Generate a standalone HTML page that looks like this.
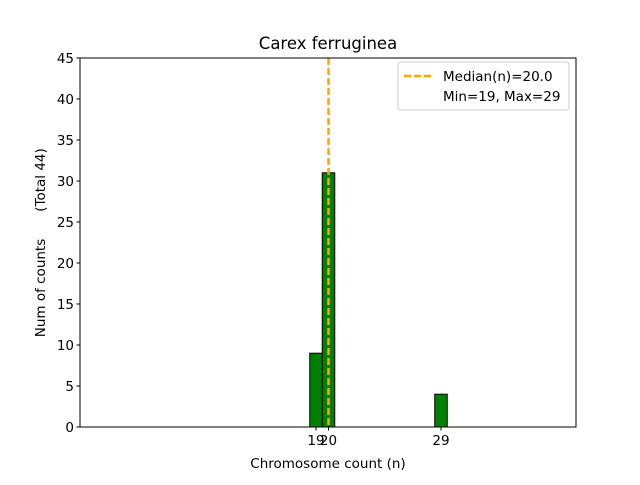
<!DOCTYPE html>
<html><head><meta charset="utf-8"><style>
body{margin:0;background:#fff}
svg text{font-family:"DejaVu Sans","Liberation Sans",sans-serif;fill:#000}
</style></head><body>
<svg id="chart" width="640" height="480" xmlns="http://www.w3.org/2000/svg">
<rect x="0" y="0" width="640" height="480" fill="#fff"/>
<text x="328" y="49" font-size="16.5" text-anchor="middle">Carex ferruginea</text>
<g id="bars"></g>
<g id="yaxis"></g>
<g id="xaxis"></g>
<rect x="80" y="58" width="496" height="369" fill="none" stroke="#000" stroke-width="1"/>
<text x="328" y="468" font-size="13.5" text-anchor="middle">Chromosome count (n)</text>
<text transform="translate(45,288) rotate(-90)" font-size="13.5" text-anchor="middle">Num of counts</text>
<text transform="translate(45,180) rotate(-90)" font-size="13.5" text-anchor="middle">(Total 44)</text>
<g>
<rect x="398" y="62" width="171" height="48" rx="3" fill="#fff" stroke="#ccc"/>
<line x1="404" y1="76" x2="432" y2="76" stroke="#FFA500" stroke-width="2.5" stroke-dasharray="7,3"/>
<text x="443" y="81" font-size="13.5">Median(n)=20.0</text>
<text x="443" y="101" font-size="13.5">Min=19, Max=29</text>
</g>
</svg>
<script>
const categories=[19,20,29];
const counts=[9,31,4];
const yTicks=[0,5,10,15,20,25,30,35,40,45];
const xTicks=[19,20,29];
const median=20.0;
const binEnd=32.5;
const NS="http://www.w3.org/2000/svg";
const X0=80,X1=576,Y0=427,Y1=58;
const xmin=0.12,xmax=39.8,ymax=45;
const x=v=>X0+(v-xmin)/(xmax-xmin)*(X1-X0);
const y=v=>Y0-v/ymax*(Y0-Y1);
function mk(t,a,p){const e=document.createElementNS(NS,t);for(const k in a)e.setAttribute(k,a[k]);p.appendChild(e);return e;}
const bars=document.getElementById('bars');
const base=mk('line',{x1:X0,y1:Y0,x2:x(binEnd),y2:Y0,stroke:'#000','stroke-width':1},bars);


categories.forEach((c,i)=>{
 const r=mk('rect',{x:x(c-0.5),y:y(counts[i]),width:x(c+0.5)-x(c-0.5),height:Y0-y(counts[i]),fill:'#008000',stroke:'#000','stroke-width':1},bars);
 
 
});
const ml=mk('line',{x1:x(median),y1:Y1,x2:x(median),y2:Y0,stroke:'#FFA500','stroke-width':2.5,'stroke-dasharray':'7,3'},bars);


const ya=document.getElementById('yaxis');
yTicks.forEach(t=>{
 const l=mk('line',{x1:X0-3.5,y1:y(t),x2:X0,y2:y(t),stroke:'#000'},ya);
 
 
 const tx=mk('text',{x:X0-6,y:y(t)+5,'font-size':13.5,'text-anchor':'end'},ya);
 tx.textContent=t;
 
 
});
const xa=document.getElementById('xaxis');
xTicks.forEach(t=>{
 const l=mk('line',{x1:x(t),y1:Y0,x2:x(t),y2:Y0+3.5,stroke:'#000'},xa);
 
 
 const tx=mk('text',{x:x(t),y:Y0+18,'font-size':13.5,'text-anchor':'middle'},xa);
 tx.textContent=t;
 
 
});
</script>
</body></html>
